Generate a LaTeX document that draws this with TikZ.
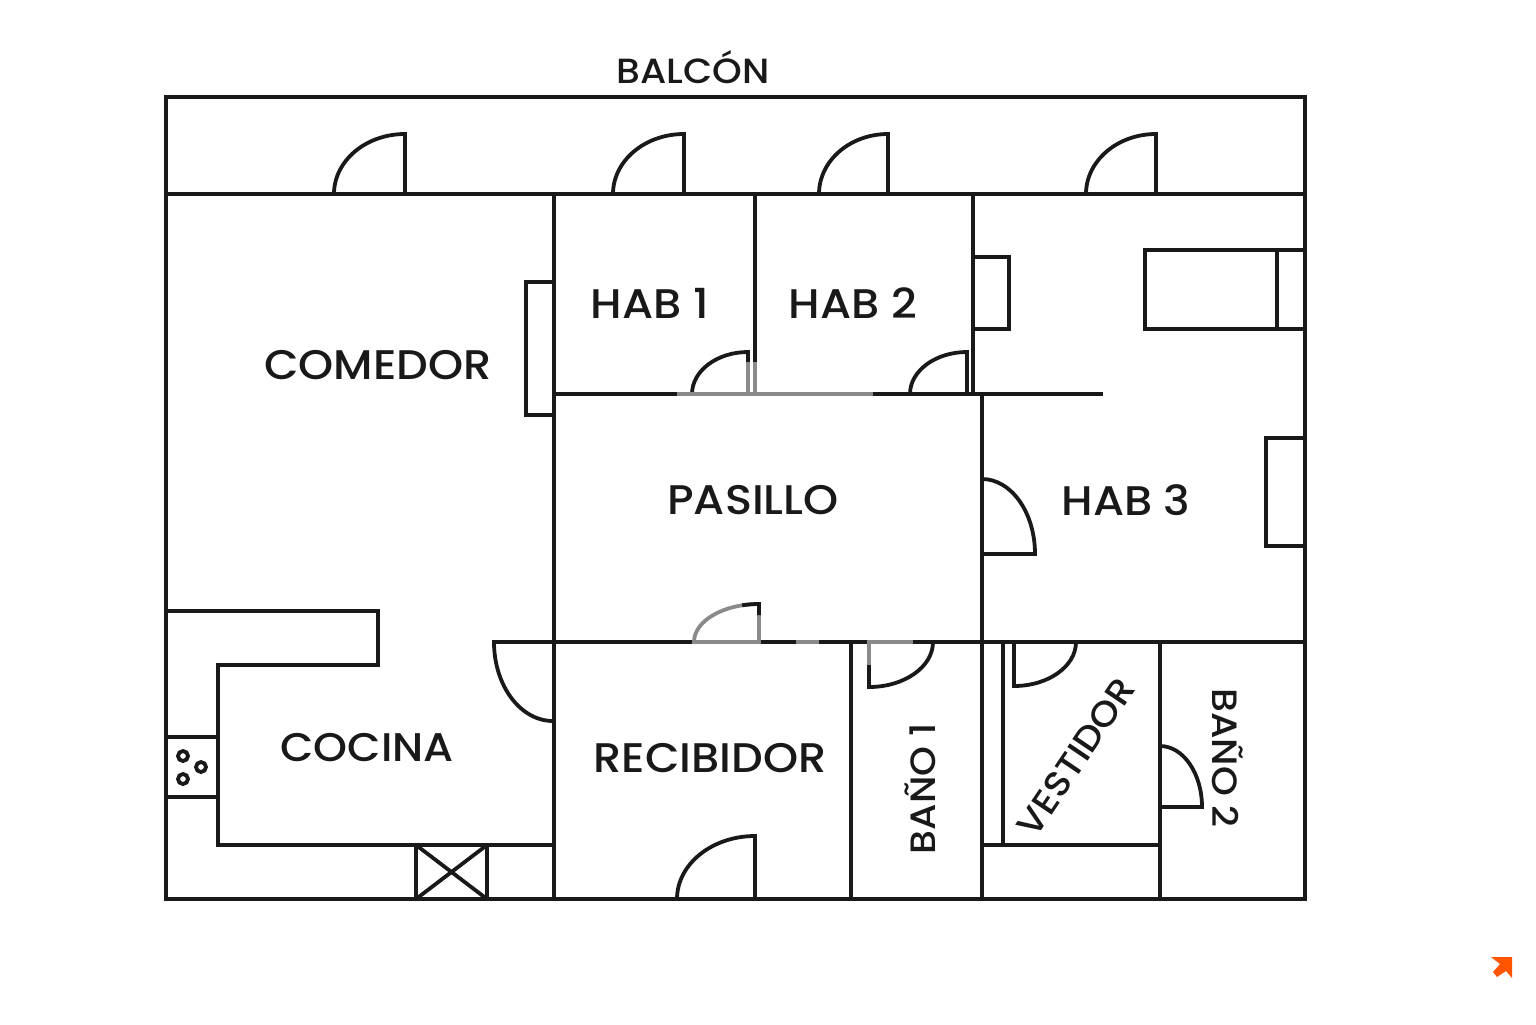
\documentclass[tikz,border=0pt]{standalone}
\usepackage{fontspec}
\setmainfont{Poppins Medium}[FakeStretch=1.08]
\definecolor{faded}{HTML}{8A8A8A}
\definecolor{logoorange}{HTML}{FF5500}

\begin{document}
\begin{tikzpicture}[x=0.5pt,y=-0.5pt,wall/.style={draw=black!90,line width=1.9pt,line join=miter},fadedwall/.style={wall,draw=faded},lbl/.style={text=black!90,font=\fontsize{20.7}{21}\selectfont,inner sep=0pt},smalllbl/.style={lbl,font=\fontsize{17.5}{17.5}\selectfont},sidelbl/.style={lbl,font=\fontsize{17.6}{18}\selectfont}]
\useasboundingbox (0,0) rectangle (1536,1024);
% walls
\draw[wall] (166,97) rectangle (1305,899);
\draw[wall] (166,194) -- (1305,194);
\draw[wall] (554,194) -- (554,899);
\draw[wall] (755,194) -- (755,394);
\draw[wall] (973,194) -- (973,394);
\draw[wall] (554,394) -- (1103,394);
\draw[wall] (982,394) -- (982,899);
\draw[wall] (554,642) -- (1305,642);
\draw[wall] (851,642) -- (851,899);
\draw[wall] (1003,642) -- (1003,845);
\draw[wall] (982,845) -- (1159,845);
\draw[wall] (1160,642) -- (1160,899);
% kitchen
\draw[wall] (166,611) -- (378,611) -- (378,665) -- (218,665) -- (218,845) -- (554,845);
\draw[wall] (166,737) -- (218,737) (166,797) -- (218,797);
\foreach \x/\y in {183/756,201/767,183/779} {
   \draw[wall] (\x,\y) circle[radius=5];
}
\draw[wall] (416,845) rectangle (487,899);
\draw[wall] (416,845) -- (487,899) (416,899) -- (487,845);
% furniture
\draw[wall] (526,282) rectangle (554,415);
\draw[wall] (973,257) rectangle (1009,329);
\draw[wall] (1145,250) rectangle (1305,329);
\draw[wall] (1277,250) -- (1277,329);
\draw[wall] (1266,438) rectangle (1305,546);
% doors
\foreach \x/\y/\rx/\ry in %
{405/194/71/60,684/194/71/60,888/194/69/60,1156/194/70/60,748/394/56/42,967/394/57/42,755/899/78/63} {
   \draw[wall] (\x,\y) -- ++(0,-\ry) arc[start angle=270,end angle=180,x radius=\rx,y radius=\ry];
}
\foreach \x/\rx/\ry in %
{869/64/45,1014/62/44} {
   \draw[wall] (\x,642) -- ++(0,\ry) arc[start angle=90,end angle=0,x radius=\rx,y radius=\ry];
}
\foreach \x/\y/\rx/\ry in %
{982/554/53/75,1160/807/42/61} {
   \draw[wall] (\x,\y) -- ++(\rx,0) arc[start angle=0,end angle=-90,x radius=\rx,y radius=\ry];
}
\draw[wall] (553,642) -- (494,642) arc[start angle=180,end angle=90,x radius=59,y radius=79];
% faded parts
\draw[fadedwall] (677,394) -- (873,394);
\draw[fadedwall] (755,362) -- (755,394) (748,362) -- (748,394);
\draw[fadedwall] (759,642) -- (759,604) arc[start angle=270,end angle=180,x radius=65,y radius=38] -- cycle;
\draw[wall] (759,615) -- (759,604) arc[start angle=270,end angle=255,x radius=65,y radius=38];
\draw[fadedwall] (796,642) -- (819,642) (867,642) -- (913,642) (869,642) -- (869,665);
% labels
\node[smalllbl] (balcon) at (693,67) {BALCÓN};
\node[lbl] (comedor) at (378,365) {COMEDOR};
\node[lbl] (hab1) at (650,303) {HAB 1};
\node[lbl] (hab2) at (853,303) {HAB 2};
\node[lbl] (pasillo) at (753,500) {PASILLO};
\node[lbl] (hab3) at (1126,500) {HAB 3};
\node[lbl,font=\fontsize{20}{20}\selectfont] (cocina) at (367,748) {COCINA};
\node[lbl] (recibidor) at (710,758) {RECIBIDOR};
\node[sidelbl,rotate=90] (bano1) at (920,789) {BAÑO 1};
\node[sidelbl,rotate=56] (vestidor) at (1076,757) {VESTIDOR};
\node[sidelbl,rotate=-90] (bano2) at (1228,758) {BAÑO 2};
% logo
\fill[logoorange] (1491,957) -- (1512,957) -- (1512,978) -- (1506,971) -- (1497,977) -- (1493,972) -- (1500,964) -- cycle;
\end{tikzpicture}
\end{document}
